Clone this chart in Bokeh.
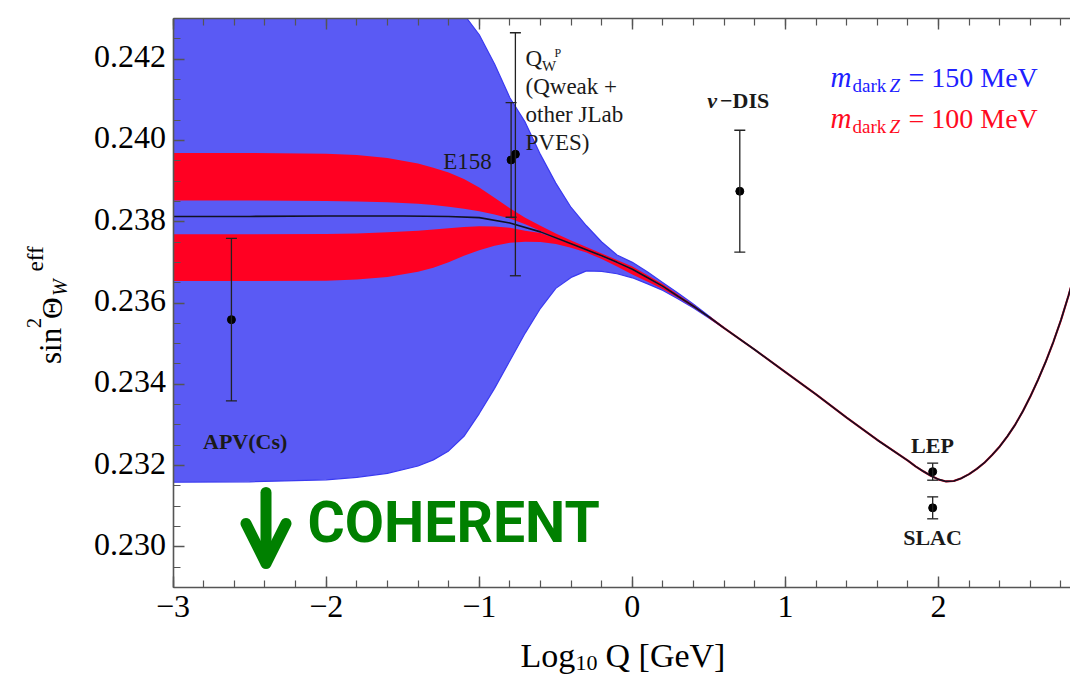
import math
from bokeh.plotting import figure
from bokeh.models import (ColumnDataSource, Whisker, TeeHead, Label, LinearAxis, FixedTicker,
                          CustomJSTickFormatter, Arrow, OpenHead, Range1d)
from bokeh.embed import file_html
from bokeh.resources import INLINE

# ---------------- data ----------------
curve_x = [-3.0, -2.5, -2.0, -1.5, -1.2, -1.0, -0.8, -0.6, -0.4, -0.2, -0.1, 0.0, 0.1, 0.2,
           0.3, 0.4, 0.5, 0.6, 0.8, 1.0, 1.2, 1.4, 1.6, 1.8, 1.85, 1.9, 1.95, 2.0, 2.05, 2.1,
           2.15, 2.2, 2.25, 2.3, 2.35, 2.4, 2.45, 2.5, 2.55, 2.6, 2.65, 2.7, 2.75, 2.8, 2.85,
           2.87]
curve_y = [0.23813, 0.23813, 0.23814, 0.23814, 0.23813, 0.23810, 0.23797, 0.23775, 0.23746,
           0.23716, 0.23700, 0.23683, 0.23662, 0.23641, 0.23616, 0.23592, 0.23566, 0.23538,
           0.23485, 0.23430, 0.23375, 0.23318, 0.23263, 0.23212, 0.23198, 0.23186, 0.23175,
           0.23166, 0.23161, 0.23162, 0.23169, 0.23179, 0.23192, 0.23207, 0.23226, 0.23247,
           0.23272, 0.23300, 0.23333, 0.23370, 0.23411, 0.23455, 0.23504, 0.23558, 0.23619,
           0.23646]

band_x = [-3.0, -2.5, -2.0, -1.8, -1.6, -1.4, -1.3, -1.2, -1.1, -1.0, -0.9, -0.8, -0.7, -0.6,
          -0.5, -0.4, -0.3, -0.2, -0.1, 0.0, 0.1, 0.2, 0.3, 0.4, 0.5, 0.6]
# m_dark Z = 150 MeV (blue)
blue_upper = [0.2475, 0.2474, 0.2470, 0.2465, 0.2458, 0.2450, 0.2444, 0.2437, 0.2431, 0.24260,
              0.24188, 0.24105, 0.24045, 0.23965, 0.23895, 0.23835, 0.23790, 0.23750, 0.23718,
              0.23700, 0.23676, 0.23650, 0.23624, 0.23597, 0.23568, 0.23538]
blue_lower = [0.23159, 0.23160, 0.23165, 0.23171, 0.23181, 0.23199, 0.23214, 0.23236, 0.23272,
              0.23328, 0.23390, 0.23458, 0.23526, 0.23587, 0.23636, 0.23663, 0.23679, 0.23678,
              0.23672, 0.23662, 0.23647, 0.23631, 0.23610, 0.23588, 0.23563, 0.23538]
# m_dark Z = 100 MeV (red), upper and lower deviation bands
red_up_outer = [0.23969, 0.23969, 0.23967, 0.23964, 0.23957, 0.23943, 0.23933, 0.23921, 0.23905,
                0.23884, 0.23859, 0.23833, 0.23810, 0.23790, 0.23771, 0.23754, 0.23738, 0.23722,
                0.23706, 0.23690, 0.23668, 0.23646, 0.23620, 0.23595, 0.23567, 0.23538]
red_up_inner = [0.23852, 0.23852, 0.23851, 0.23850, 0.23848, 0.23844, 0.23841, 0.23837, 0.23832,
                0.23826, 0.23818, 0.23808, 0.23794, 0.23777, 0.23761, 0.23746, 0.23731, 0.23716,
                0.23700, 0.23683, 0.23662, 0.23641, 0.23616, 0.23592, 0.23566, 0.23538]
red_lo_top = [0.23769, 0.23769, 0.23770, 0.23771, 0.23774, 0.23778, 0.23781, 0.23784, 0.23787,
              0.23789, 0.23788, 0.23785, 0.23778, 0.23772, 0.23759, 0.23744, 0.23729, 0.23714,
              0.23698, 0.23681, 0.23660, 0.23639, 0.23614, 0.23590, 0.23564, 0.23538]
red_lo_bottom = [0.23654, 0.23654, 0.23655, 0.23658, 0.23664, 0.23677, 0.23687, 0.23700, 0.23716,
                 0.23730, 0.23741, 0.23748, 0.23751, 0.23750, 0.23745, 0.23736, 0.23724, 0.23708,
                 0.23690, 0.23670, 0.23652, 0.23634, 0.23612, 0.23589, 0.23563, 0.23538]

pt_name = ["APV(Cs)", "E158", "Qweak", "nu-DIS", "LEP", "SLAC"]
pt_x = [-2.619, -0.792, -0.764, 0.702, 1.962, 1.962]
pt_y = [0.23559, 0.23952, 0.23966, 0.23875, 0.23185, 0.23096]
pt_err = [0.00200, 0.00141, 0.00299, 0.00150, 0.00021, 0.00027]

x_major = [-3, -2, -1, 0, 1, 2]
x_labels = ["\u22123", "\u22122", "\u22121", "0", "1", "2"]
x_minor = [round(-3 + 0.2 * i, 1) for i in range(30)]
y_major = [0.230, 0.232, 0.234, 0.236, 0.238, 0.240, 0.242]
y_labels = ["0.230", "0.232", "0.234", "0.236", "0.238", "0.240", "0.242"]
y_minor = [round(0.229 + 0.0005 * i, 4) for i in range(29)]

# axis extent of the plotted box
X_AX_LEFT = -3.0
Y_AX_BOTTOM = 0.229
Y_AX_TOP = 0.243

# ---------------- figure geometry ----------------
W, H = 1070, 676
FL, FT = 20, 18                       # frame covers the margins so texts there are drawn
SX = 153.08                           # px per x unit
SY = 569.0 / (Y_AX_TOP - Y_AX_BOTTOM)  # px per y unit
AX_LEFT_PX = 172.6
X0 = X_AX_LEFT - (AX_LEFT_PX - FL) / SX
X1 = X0 + (W - FL) / SX
Y1 = Y_AX_TOP
Y0 = Y1 - (H - FT) / SY

p = figure(width=W, height=H, x_range=Range1d(X0, X1), y_range=Range1d(Y0, Y1),
           output_backend="svg", toolbar_location=None,
           x_axis_location=None, y_axis_location=None,
           min_border_left=FL, min_border_right=0, min_border_top=FT, min_border_bottom=0)
p.outline_line_color = None
p.background_fill_color = "white"
p.border_fill_color = "white"
p.grid.visible = False

BLUE_FILL = "#5a5af4"
RED_FILL = "#ff0022"

band = ColumnDataSource(dict(x=band_x, bu=blue_upper, bl=blue_lower, ruo=red_up_outer,
                             rui=red_up_inner, rlt=red_lo_top, rlb=red_lo_bottom))
p.varea(x="x", y1="bl", y2="bu", source=band, fill_color=BLUE_FILL)
p.line(x="x", y="bu", source=band, line_color="#3a3af0", line_width=1.2)
p.line(x="x", y="bl", source=band, line_color="#3a3af0", line_width=1.2)
p.varea(x="x", y1="rui", y2="ruo", source=band, fill_color=RED_FILL)
p.varea(x="x", y1="rlb", y2="rlt", source=band, fill_color=RED_FILL)

i0 = curve_x.index(0.5)
p.line(x=curve_x[i0:], y=curve_y[i0:], line_color="#e00020", line_width=2.1)
p.line(x=curve_x, y=curve_y, line_color="#111122", line_width=1.6)

pts = ColumnDataSource(dict(x=pt_x, y=pt_y,
                            upper=[y + e for y, e in zip(pt_y, pt_err)],
                            lower=[y - e for y, e in zip(pt_y, pt_err)]))
EB = "#222222"
wk = Whisker(source=pts, base="x", upper="upper", lower="lower", dimension="height",
             line_color=EB, line_width=1.3,
             upper_head=TeeHead(size=11, line_color=EB, line_width=1.3),
             lower_head=TeeHead(size=11, line_color=EB, line_width=1.3))
wk.level = "annotation"
p.add_layout(wk)
p.scatter(x="x", y="y", source=pts, size=8, color="black")

# ---------------- axes (lines + ticks) ----------------
AX = "#555555"
blank = CustomJSTickFormatter(code="return ''")

left_ax = LinearAxis(ticker=FixedTicker(ticks=y_major, minor_ticks=y_minor), formatter=blank,
                     fixed_location=X_AX_LEFT, bounds=(Y_AX_BOTTOM, Y_AX_TOP))
top_ax = LinearAxis(ticker=FixedTicker(ticks=x_major, minor_ticks=x_minor), formatter=blank,
                    bounds=(X_AX_LEFT, X1))
bot_ax = LinearAxis(ticker=FixedTicker(ticks=x_major, minor_ticks=x_minor), formatter=blank,
                    fixed_location=Y_AX_BOTTOM, bounds=(X_AX_LEFT, X1))
p.add_layout(left_ax, "left")
p.add_layout(top_ax, "above")
p.add_layout(bot_ax, "above")

for ax in (left_ax, top_ax, bot_ax):
    ax.axis_line_color = AX
    ax.axis_line_width = 1.6
    ax.major_tick_line_color = AX
    ax.major_tick_line_width = 1.4
    ax.minor_tick_line_color = AX
    ax.minor_tick_line_width = 1.2
    ax.major_label_text_font_size = "1px"
    ax.major_label_standoff = 0
    ax.major_tick_in = 11
    ax.major_tick_out = 0
    ax.minor_tick_in = 7
    ax.minor_tick_out = 0
# the bottom axis lives in the "above" panel, so its inward ticks are its "out" ticks
bot_ax.major_tick_in, bot_ax.major_tick_out = 0, 11
bot_ax.minor_tick_in, bot_ax.minor_tick_out = 0, 7

# SVG text sits ~0.375 em lower than the requested alphabetic baseline: compensate
SHIFT = 0.375

# tick labels
TICK_FONT = "Liberation Serif"
TICK_SIZE = 32
for t, s in zip(y_major, y_labels):
    p.add_layout(Label(x=X_AX_LEFT, y=t, text=s, x_offset=-7,
                       y_offset=-9.5 + SHIFT * TICK_SIZE,
                       text_align="right", text_baseline="alphabetic",
                       text_font=TICK_FONT, text_font_size=f"{TICK_SIZE}px", text_color="black"))
for t, s in zip(x_major, x_labels):
    p.add_layout(Label(x=t, y=Y_AX_BOTTOM, text=s, y_offset=-31 + SHIFT * TICK_SIZE,
                       text_align="center", text_baseline="alphabetic",
                       text_font=TICK_FONT, text_font_size=f"{TICK_SIZE}px", text_color="black"))

# ---------------- text annotations ----------------
def dx(px):
    return X0 + (px - FL) / SX


def dy(py):
    return Y1 - (py - FT) / SY


def add_text(txt, px, py, size, color="black", font="Liberation Serif", style="normal",
             align="left", angle=0.0, shift=SHIFT):
    if angle:
        px = px - shift * size
    else:
        py = py - shift * size
    p.add_layout(Label(x=dx(px), y=dy(py), text=txt, text_font=font,
                       text_font_size=f"{size}px", text_color=color, text_font_style=style,
                       text_align=align, text_baseline="alphabetic", angle=angle))

TXT = "#1a1a1a"
# axis titles
add_text("Log", 520, 668, 34)
add_text("10", 575, 671, 22)
add_text("Q [GeV]", 605, 668, 34)
R = math.pi / 2
add_text("sin", 61.7, 363.5, 31, angle=R)
add_text("2", 40.7, 327.5, 20, angle=R)
add_text("\u0398", 62.0, 318.5, 30, angle=R)
add_text("W", 66.5, 295.5, 20, style="italic", angle=R)
add_text("eff", 43.3, 271.0, 23, angle=R)

# data labels
add_text("APV(Cs)", 202.5, 449.5, 22, color=TXT, style="bold")
add_text("E158", 442.7, 169.3, 23, color=TXT)
add_text("Q", 525, 66.5, 23, color=TXT)
add_text("W", 541.5, 71.5, 15, color=TXT)
add_text("P", 554, 57.0, 12, color=TXT)
add_text("(Qweak +", 525, 94.3, 23, color=TXT)
add_text("other JLab", 525, 122.7, 23, color=TXT)
add_text("PVES)", 525, 151.0, 23, color=TXT)
add_text("\u03bd", 706.7, 108.3, 22, color=TXT, style="bold italic")
add_text("\u2212DIS", 719.5, 108.3, 22, color=TXT, style="bold")
add_text("LEP", 932, 453.0, 22, color=TXT, style="bold", align="center")
add_text("SLAC", 932, 545.7, 22, color=TXT, style="bold", align="center")

# legend texts
for txt_val, col, base in (("150", "#2020ff", 87.3), ("100", "#ff0a1e", 128.3)):
    add_text("m", 830, base, 29, color=col, style="italic")
    add_text("dark", 852, base + 4.5, 19, color=col)
    add_text("Z", 889, base + 4.5, 19, color=col, style="italic")
    add_text(f"= {txt_val} MeV", 908, base, 28, color=col)

# COHERENT annotation
GREEN = "#008000"
p.add_layout(Arrow(x_start=dx(265.5), y_start=dy(492), x_end=dx(265.5), y_end=dy(563),
                   line_color=GREEN, line_width=11, line_cap="round",
                   end=OpenHead(size=40, line_color=GREEN, line_width=11, line_cap="round")))
add_text("COHERENT", 307, 544.5, 57, color=GREEN, font="Roboto", style="bold", shift=0.39)

open("out.html", "w").write(file_html(p, INLINE))
